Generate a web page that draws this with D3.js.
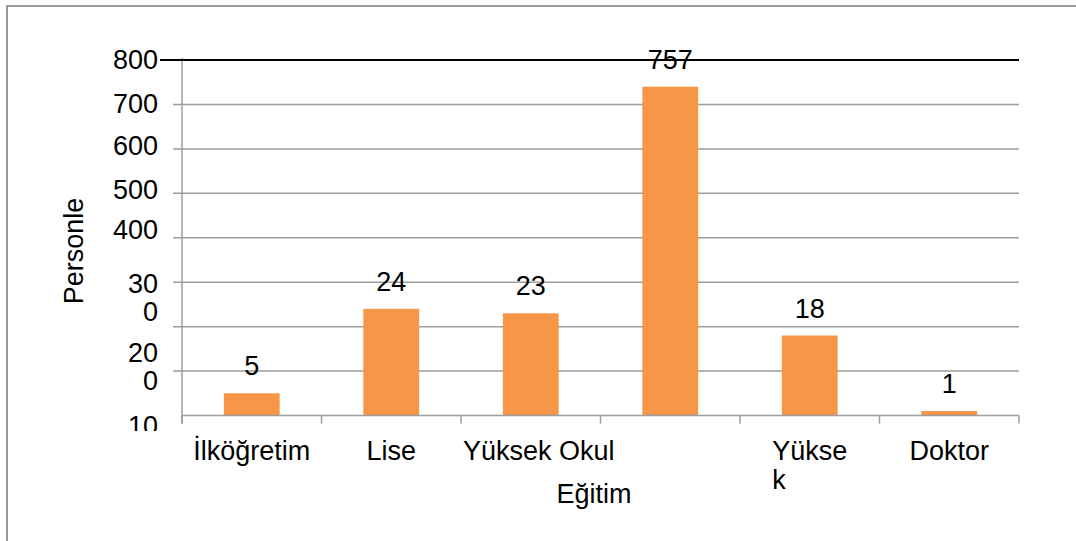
<!DOCTYPE html>
<html>
<head>
<meta charset="utf-8">
<script src="https://cdn.jsdelivr.net/npm/d3@7"></script>
<style>
  body { margin: 0; background: #fff; }
  text { font-family: "Liberation Sans", Arial, sans-serif; fill: #000; }
</style>
</head>
<body>
<div id="chart"></div>
<script>
// data
const categories = ["İlköğretim", "Lise", "Yüksek Okul", "Lisans", "Yüksek Lisans", "Doktor"];
const catLabels = [["İlköğretim"], ["Lise"], ["Yüksek Okul"], [], ["Yükse", "k"], ["Doktor"]];
const barValues = [50, 240, 230, 740, 180, 10];
const valueLabels = ["5", "24", "23", "757", "18", "1"];
const yTicks = [100, 200, 300, 400, 500, 600, 700, 800];
const yTickLabels = [["10"], ["20", "0"], ["30", "0"], ["400"], ["500"], ["600"], ["700"], ["800"]];

const width = 1076;
const height = 541;
const fontSize = 27;

const svg = d3.select("#chart")
    .append("svg")
    .attr("width", width)
    .attr("height", height);

// outer frame (cropped at right / bottom)
svg.append("rect")
    .attr("x", 7)
    .attr("y", 6)
    .attr("width", width + 10)
    .attr("height", height + 10)
    .attr("fill", "none")
    .attr("stroke", "#9a9a9a")
    .attr("stroke-width", 2);

const xScale = d3.scaleBand()
    .domain(categories)
    .range([182, 1019])
    .paddingInner(0.6)
    .paddingOuter(0.3);

const yScale = d3.scaleLinear()
    .domain([0, 800])
    .range([415.5, 60]);

// gridlines
svg.append("g")
    .selectAll("line")
    .data(yTicks.filter(d => d < 800))
    .join("line")
    .attr("x1", 173)
    .attr("x2", 1019)
    .attr("y1", d => yScale(d))
    .attr("y2", d => yScale(d))
    .attr("stroke", "#9d9d9d")
    .attr("stroke-width", 1.5);

// bars
svg.append("g")
    .selectAll("rect")
    .data(barValues)
    .join("rect")
    .attr("x", (d, i) => xScale(categories[i]))
    .attr("y", d => yScale(d))
    .attr("width", xScale.bandwidth())
    .attr("height", d => yScale(0) - yScale(d))
    .attr("fill", "#F79646");

// x axis line + ticks at band edges
const edges = categories.map(c => xScale(c) - xScale.step() * xScale.paddingOuter());
edges.push(1019);
svg.append("line")
    .attr("x1", 182).attr("x2", 1019)
    .attr("y1", yScale(0)).attr("y2", yScale(0))
    .attr("stroke", "#9d9d9d").attr("stroke-width", 1.5);
svg.append("g")
    .selectAll("line")
    .data(edges)
    .join("line")
    .attr("x1", d => d).attr("x2", d => d)
    .attr("y1", yScale(0)).attr("y2", yScale(0) + 8)
    .attr("stroke", "#9d9d9d").attr("stroke-width", 1.5);

// y axis line
svg.append("line")
    .attr("x1", 182).attr("x2", 182)
    .attr("y1", yScale(800) - 2).attr("y2", yScale(0) + 8)
    .attr("stroke", "#9d9d9d").attr("stroke-width", 1.5);

// top line (black)
svg.append("line")
    .attr("x1", 160).attr("x2", 1019)
    .attr("y1", yScale(800)).attr("y2", yScale(800))
    .attr("stroke", "#000").attr("stroke-width", 2);

// y tick labels (the original draws them drifted and wrapped)
const labelNudge = [54, 26, 1, -8, -4, -3, -1, 0];
svg.append("clipPath").attr("id", "yclip")
    .append("rect").attr("x", 0).attr("y", 0).attr("width", 180).attr("height", 431);
const yLab = svg.append("g").attr("clip-path", "url(#yclip)");
yTicks.forEach((v, i) => {
    yTickLabels[i].forEach((line, j) => {
        yLab.append("text")
            .attr("x", 158)
            .attr("y", yScale(v) + labelNudge[i] + j * 28)
            .attr("dy", "0.35em")
            .attr("text-anchor", "end")
            .attr("font-size", fontSize)
            .text(line);
    });
});

// value labels
svg.append("g")
    .selectAll("text")
    .data(barValues)
    .join("text")
    .attr("x", (d, i) => xScale(categories[i]) + xScale.bandwidth() / 2)
    .attr("y", d => yScale(d) - 18)
    .attr("text-anchor", "middle")
    .attr("font-size", fontSize)
    .text((d, i) => valueLabels[i]);

// category labels
categories.forEach((c, i) => {
    const cx = xScale(c) + xScale.bandwidth() / 2;
    const lines = catLabels[i];
    if (lines.length === 0) return;
    const first = svg.append("text")
        .attr("x", cx + (c === "Yüksek Okul" ? 8 : 0))
        .attr("y", 460)
        .attr("text-anchor", "middle")
        .attr("font-size", fontSize)
        .text(lines[0]);
    if (lines.length > 1) {
        const left = first.node().getBBox().x;
        lines.slice(1).forEach((line, j) => {
            svg.append("text")
                .attr("x", left)
                .attr("y", 460 + (j + 1) * 29)
                .attr("font-size", fontSize)
                .text(line);
        });
    }
});

// axis titles
svg.append("text")
    .attr("x", 594)
    .attr("y", 503)
    .attr("text-anchor", "middle")
    .attr("font-size", fontSize)
    .text("Eğitim");

svg.append("text")
    .attr("transform", "translate(83, 251) rotate(-90)")
    .attr("text-anchor", "middle")
    .attr("font-size", fontSize)
    .text("Personle");
</script>
</body>
</html>
